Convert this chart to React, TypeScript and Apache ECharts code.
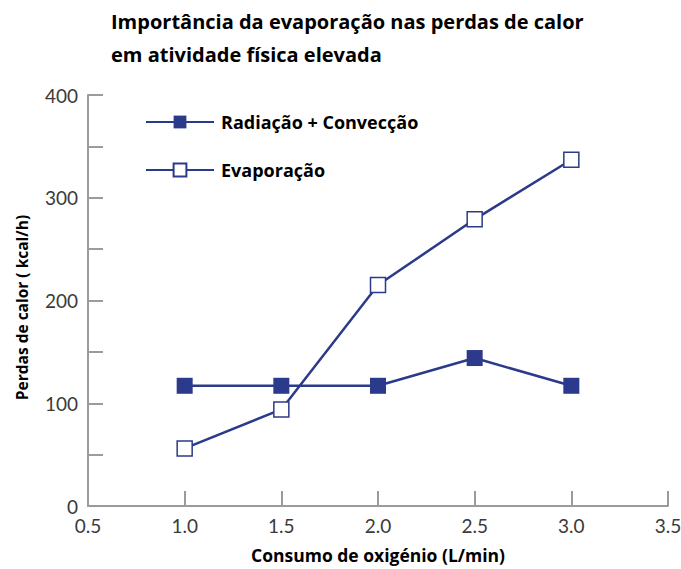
import React, { useEffect, useRef } from "react";
import * as echarts from "echarts";

const xValues = [1.0, 1.5, 2.0, 2.5, 3.0];
const radiacaoConveccao = [117, 117, 117, 144, 117];
const evaporacao = [56, 94, 215, 279, 337];
const seriesNames = ["Radiação + Convecção", "Evaporação"];
const titleText = "Importância da evaporação nas perdas de calor\nem atividade física elevada";
const xAxisName = "Consumo de oxigénio (L/min)";
const yAxisName = "Perdas de calor ( kcal/h)";

const BLUE = "#2b3a8a";
const AXIS = "#9b9b9b";

export default function App() {
  const ref = useRef<HTMLDivElement>(null);
  useEffect(() => {
    if (!ref.current) return;
    const chart = echarts.init(ref.current, null, { renderer: "svg" });
    chart.setOption({
      animation: false,
      backgroundColor: "#ffffff",
      title: {
        text: titleText,
        left: 111,
        top: 5,
        padding: 0,
        textStyle: {
          fontFamily: "Open Sans",
          fontWeight: "bold",
          fontSize: 20,
          lineHeight: 33,
          color: "#000",
        },
      },
      legend: {
        orient: "vertical",
        left: 140,
        top: 108,
        itemWidth: 68,
        itemHeight: 16,
        itemGap: 30,
        textStyle: { fontFamily: "Open Sans", fontSize: 18, fontWeight: "bold", color: "#000", padding: [0, 0, 0, 2] },
        data: seriesNames,
      },
      grid: { left: 88, right: 13, top: 95, bottom: 63, containLabel: false, outerBoundsMode: "none" },
      xAxis: {
        type: "value",
        min: 0.5,
        max: 3.5,
        interval: 0.5,
        name: xAxisName,
        nameLocation: "middle",
        nameGap: 40,
        nameTextStyle: { fontFamily: "Open Sans", fontWeight: "bold", fontSize: 17.5, color: "#000" },
        axisLine: { lineStyle: { color: AXIS, width: 2 } },
        axisTick: { inside: true, length: 15, lineStyle: { color: AXIS, width: 2 } },
        axisLabel: {
          formatter: (v: number) => v.toFixed(1),
          fontFamily: "Lato",
          fontSize: 19,
          color: "#3a3a3a",
          margin: 10,
        },
        splitLine: { show: false },
      },
      yAxis: {
        type: "value",
        min: 0,
        max: 400,
        interval: 50,
        name: yAxisName,
        nameLocation: "middle",
        nameGap: 58,
        nameTextStyle: { fontFamily: "Open Sans", fontWeight: "bold", fontSize: 15.5, color: "#000", padding: [0, 14, 0, 0] },
        axisLine: { show: true, lineStyle: { color: AXIS, width: 2 } },
        axisTick: { show: true, inside: true, length: 15, lineStyle: { color: AXIS, width: 2 } },
        axisLabel: {
          formatter: (v: number) => (v % 100 === 0 ? String(v) : ""),
          fontFamily: "Lato",
          fontSize: 19,
          color: "#3a3a3a",
          margin: 10,
        },
        splitLine: { show: false },
      },
      series: [
        {
          name: seriesNames[0],
          type: "line",
          data: xValues.map((x, i) => [x, radiacaoConveccao[i]]),
          symbol: "rect",
          symbolSize: 16,
          lineStyle: { color: BLUE, width: 2.5 },
          itemStyle: { color: BLUE, borderColor: BLUE, borderWidth: 0 },
        },
        {
          name: seriesNames[1],
          type: "line",
          data: xValues.map((x, i) => [x, evaporacao[i]]),
          symbol: "rect",
          symbolSize: 15,
          lineStyle: { color: BLUE, width: 2.5 },
          itemStyle: { color: "#ffffff", borderColor: BLUE, borderWidth: 1.5 },
        },
      ],
    });
    return () => chart.dispose();
  }, []);
  return <div ref={ref} style={{ width: 681, height: 569, position: "absolute", left: 0, top: 0 }} />;
}
